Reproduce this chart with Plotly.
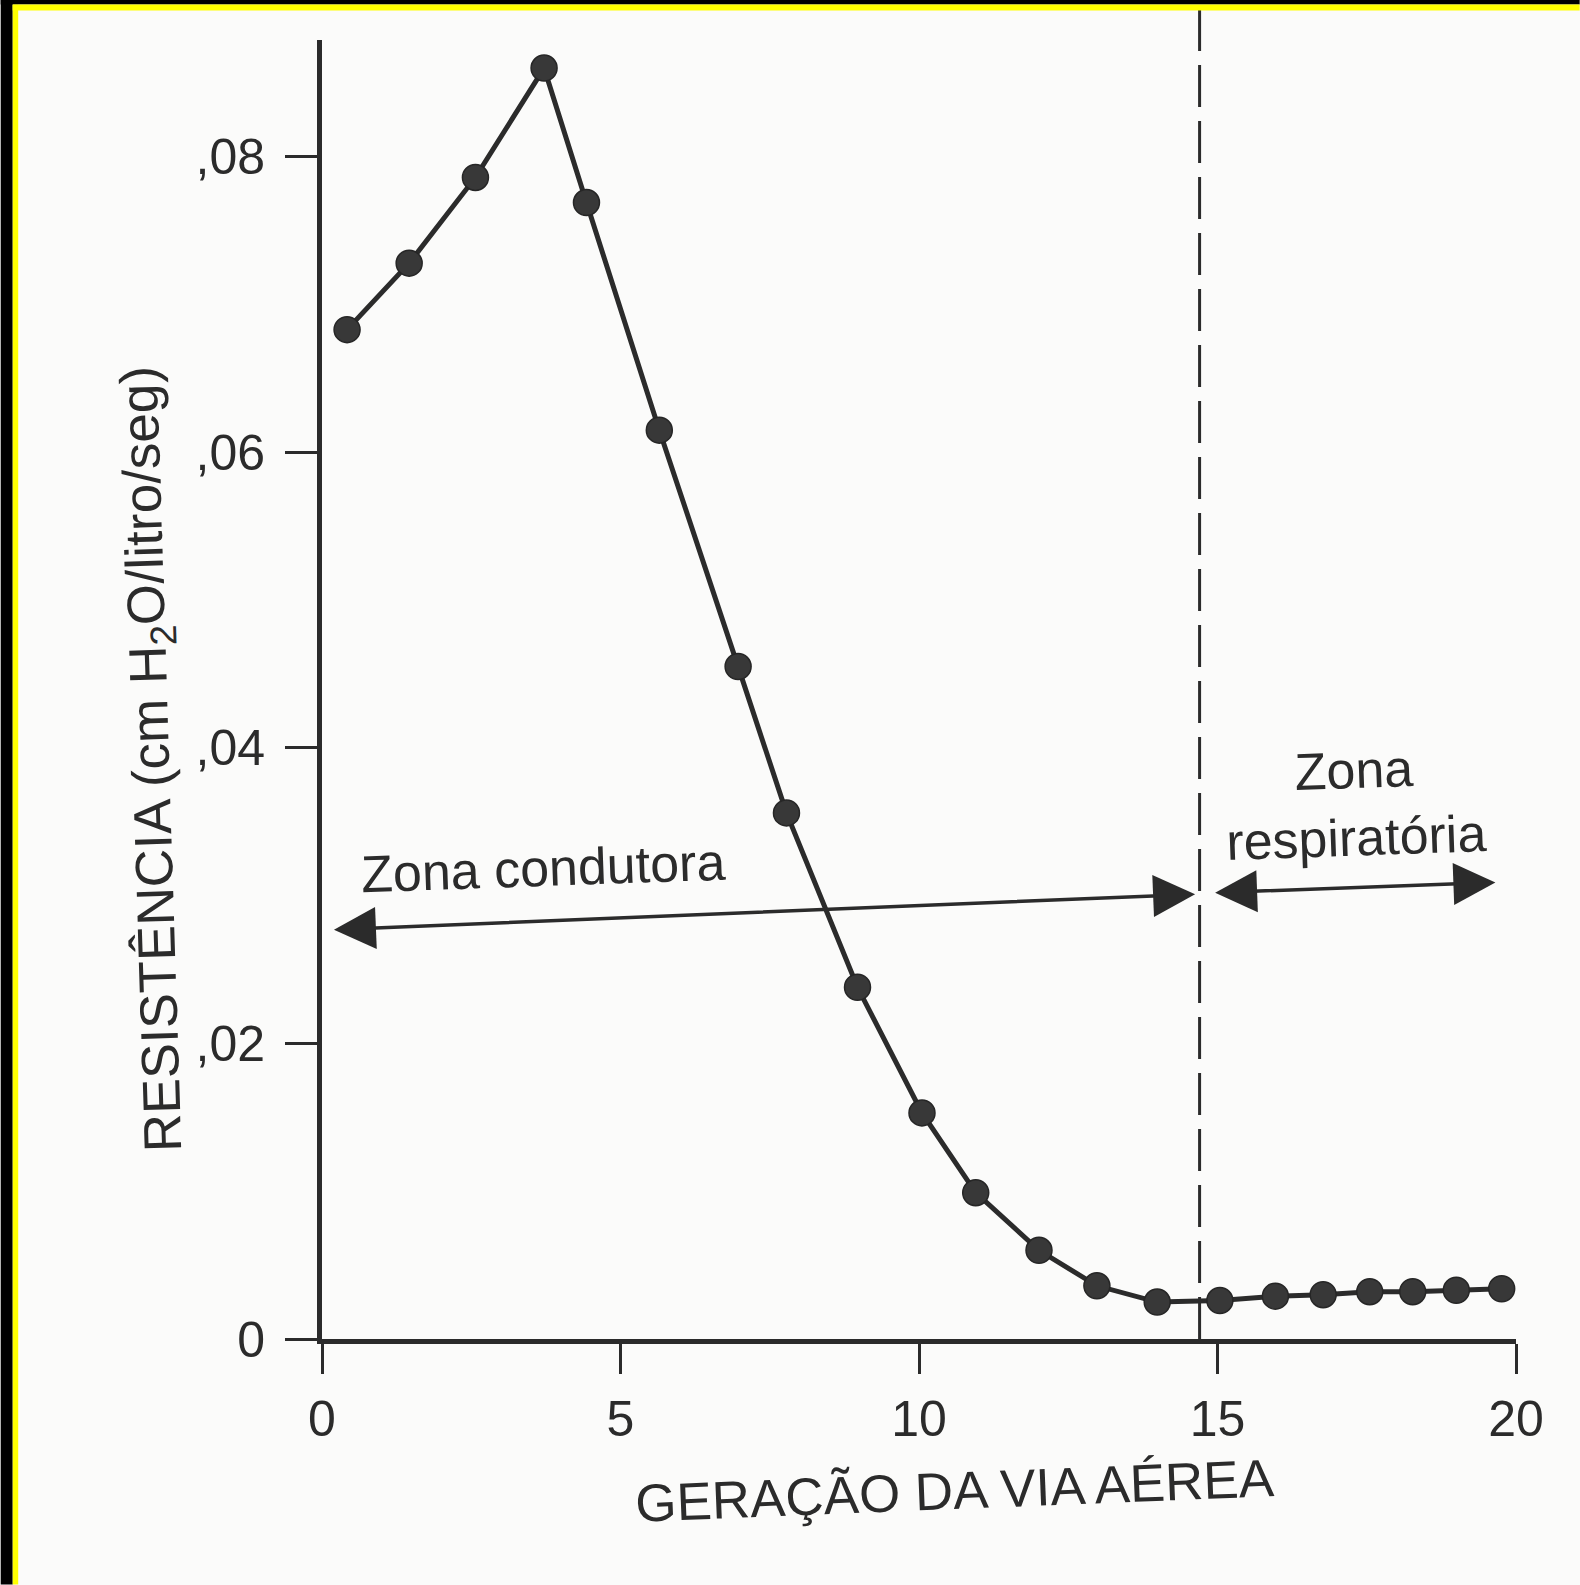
import plotly.graph_objects as go

# ---- data ----
generation = [0.42, 1.46, 2.57, 3.72, 4.43, 5.65, 6.97, 7.78, 8.97, 10.05, 10.95,
              12.01, 12.98, 13.99, 15.04, 15.97, 16.77, 17.55, 18.27, 19.00, 19.76]
resistance = [0.0683, 0.0728, 0.0786, 0.0860, 0.0769, 0.0615, 0.0455, 0.0356, 0.0238,
              0.0153, 0.0099, 0.0060, 0.0036, 0.0025, 0.0026, 0.0029, 0.0030, 0.0032,
              0.0032, 0.0033, 0.0034]
x_ticks = [0, 5, 10, 15, 20]
x_tick_labels = ["0", "5", "10", "15", "20"]
y_ticks = [0, 0.02, 0.04, 0.06, 0.08]
y_tick_labels = ["0", ",02", ",04", ",06", ",08"]
zone_boundary = 14.70
conducting_arrow = [(0.2, 0.0277), (14.65, 0.0301)]
respiratory_arrow = [(14.96, 0.0302), (19.68, 0.0309)]

# ---- geometry / style ----
W, H = 1580, 1585
L, R = 321.5, 1516.3
T, B = 40.4, 1339.4
INK = "#2b2b2b"
FONT = "Liberation Sans, Arial, Helvetica, sans-serif"


def px(xp):
    return (xp - L) / (R - L)


def py(yp):
    return (B - yp) / (B - T)


fig = go.Figure()
fig.add_trace(go.Scatter(
    x=generation, y=resistance, mode="lines+markers",
    line=dict(color=INK, width=5),
    marker=dict(size=26, color="#383838", line=dict(color="#262626", width=1.5)),
    cliponaxis=False, showlegend=False, hoverinfo="skip"))

annotations = []
for (x1, y1), (x2, y2) in [conducting_arrow, respiratory_arrow]:
    annotations.append(dict(
        x=x1, y=y1, ax=x2, ay=y2, xref="x", yref="y", axref="x", ayref="y",
        text="", showarrow=True, arrowside="end+start", arrowhead=2,
        startarrowhead=2, arrowsize=2.4, startarrowsize=2.4, arrowwidth=3.5,
        arrowcolor=INK, standoff=0, startstandoff=0))

annotations += [
    dict(x=3.71, y=0.0319, xref="x", yref="y", text="Zona condutora",
         showarrow=False, textangle=-2, xanchor="center", yanchor="middle",
         font=dict(size=52, color=INK, family=FONT)),
    dict(x=17.31, y=0.0362, xref="x", yref="y", text="Zona<br>respiratória",
         showarrow=False, textangle=-2, xanchor="center", yanchor="middle",
         font=dict(size=52, color=INK, family=FONT)),
    dict(x=px(955), y=py(1491), xref="paper", yref="paper",
         text="GERAÇÃO DA VIA AÉREA", showarrow=False, textangle=-2.3,
         xanchor="center", yanchor="middle",
         font=dict(size=53, color=INK, family=FONT)),
    dict(x=px(154), y=py(760), xref="paper", yref="paper",
         text="RESISTÊNCIA (cm H<sub>2</sub>O/litro/seg)", showarrow=False,
         textangle=-91.8, xanchor="center", yanchor="middle",
         font=dict(size=53, color=INK, family=FONT)),
]

shapes = [
    dict(type="line", xref="x", yref="paper", x0=zone_boundary, x1=zone_boundary,
         y0=0, y1=py(10), line=dict(color=INK, width=3, dash="42px,14px")),
    dict(type="rect", xref="paper", yref="paper", x0=px(0), x1=px(12),
         y0=py(H), y1=py(0), line=dict(width=0), fillcolor="black", layer="above"),
    dict(type="rect", xref="paper", yref="paper", x0=px(12), x1=px(17.5),
         y0=py(H), y1=py(5), line=dict(width=0), fillcolor="#ffff00", layer="above"),
    dict(type="rect", xref="paper", yref="paper", x0=px(0), x1=px(W),
         y0=py(5), y1=py(0), line=dict(width=0), fillcolor="black", layer="above"),
    dict(type="rect", xref="paper", yref="paper", x0=px(12), x1=px(W),
         y0=py(11), y1=py(5), line=dict(width=0), fillcolor="#ffff00", layer="above"),
]

fig.update_layout(
    width=W, height=H,
    margin=dict(l=L, r=W - R, t=T, b=H - B, pad=0),
    paper_bgcolor="#fbfbfa", plot_bgcolor="#fbfbfa",
    font=dict(family=FONT, color=INK, size=50),
    annotations=annotations, shapes=shapes,
    xaxis=dict(range=[0, 20], tickvals=x_ticks, ticktext=x_tick_labels,
               showline=True, linewidth=5, linecolor=INK, ticks="outside",
               ticklen=30, tickwidth=3, tickcolor=INK, showgrid=False,
               zeroline=False, tickfont=dict(size=50, color=INK),
               ticklabelstandoff=2, fixedrange=True),
    yaxis=dict(range=[0, 0.0879], tickvals=y_ticks, ticktext=y_tick_labels,
               showline=True, linewidth=5, linecolor=INK, ticks="outside",
               ticklen=32, tickwidth=3, tickcolor=INK, showgrid=False,
               zeroline=False, tickfont=dict(size=50, color=INK),
               ticklabelstandoff=10, fixedrange=True),
)

fig.write_html("out.html", config={"displayModeBar": False},
               post_script="document.body.style.margin='0';"
                           "document.body.style.overflow='hidden';")
